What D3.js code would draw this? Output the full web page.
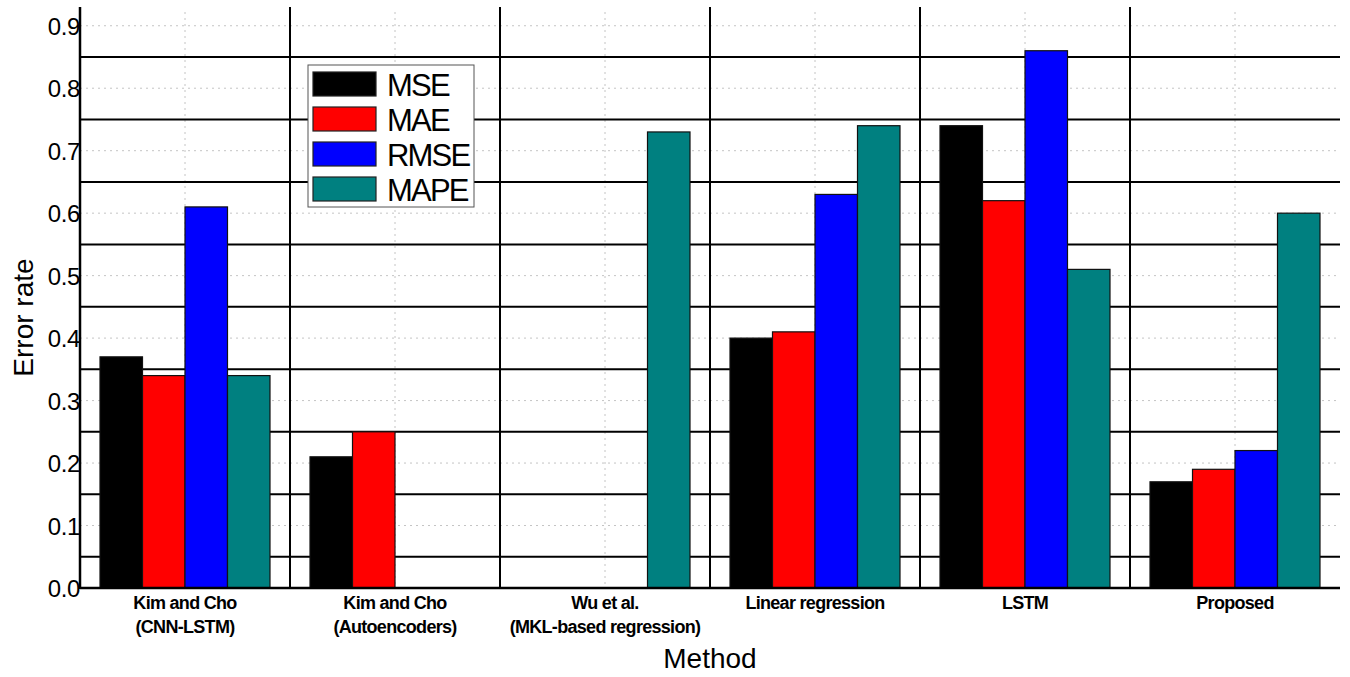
<!DOCTYPE html>
<html><head><meta charset="utf-8">
<script src="https://cdn.jsdelivr.net/npm/d3@7/dist/d3.min.js"></script>
<style>body{margin:0;background:#fff;} svg{display:block;font-family:"Liberation Sans",Arial,sans-serif;}</style>
</head><body>
<svg id="c" width="1350" height="677"></svg>
<script>
const categories = [["Kim and Cho","(CNN-LSTM)"],["Kim and Cho","(Autoencoders)"],["Wu et al.","(MKL-based regression)"],["Linear regression"],["LSTM"],["Proposed"]];
const seriesNames = ["MSE","MAE","RMSE","MAPE"];
const seriesColors = ["#000000","#ff0000","#0000ff","#008080"];
const MSE  = [0.37,0.21,0,0.40,0.74,0.17];
const MAE  = [0.34,0.25,0,0.41,0.62,0.19];
const RMSE = [0.61,0,0,0.63,0.86,0.22];
const MAPE = [0.34,0,0.73,0.74,0.51,0.60];
const yTicks = [0.0,0.1,0.2,0.3,0.4,0.5,0.6,0.7,0.8,0.9];
const yMajor = [0.05,0.15,0.25,0.35,0.45,0.55,0.65,0.75,0.85];
const values = [MSE,MAE,RMSE,MAPE];

const svg = d3.select("#c");
const L=80,R=1340,T=7,B=588;
const x0 = d3.scaleBand().domain(d3.range(categories.length)).range([L,R]).paddingInner(0).paddingOuter(0);
const x1 = d3.scaleBand().domain(d3.range(4)).range([20, x0.bandwidth()-20]).padding(0);
const y = d3.scaleLinear().domain([0,0.93]).range([B,T]);

// dotted minor grid
svg.append("g").selectAll("line").data(yTicks.slice(1)).join("line")
  .attr("x1",L).attr("x2",R).attr("y1",d=>y(d)).attr("y2",d=>y(d))
  .attr("stroke","#c4c4c4").attr("stroke-width",1).attr("stroke-dasharray","2,4");
svg.append("g").selectAll("line").data(d3.range(categories.length)).join("line")
  .attr("x1",d=>x0(d)+x0.bandwidth()/2).attr("x2",d=>x0(d)+x0.bandwidth()/2).attr("y1",T+5).attr("y2",B)
  .attr("stroke","#c4c4c4").attr("stroke-width",1).attr("stroke-dasharray","2,4");
// solid major grid
svg.append("g").selectAll("line").data(yMajor).join("line")
  .attr("x1",L).attr("x2",R).attr("y1",d=>y(d)).attr("y2",d=>y(d))
  .attr("stroke","#000").attr("stroke-width",2);
svg.append("g").selectAll("line").data(d3.range(1,categories.length)).join("line")
  .attr("x1",d=>x0(d)).attr("x2",d=>x0(d)).attr("y1",T).attr("y2",B)
  .attr("stroke","#000").attr("stroke-width",2);

// bars
const g = svg.append("g");
categories.forEach((c,i)=>{
  values.forEach((arr,s)=>{
    if(arr[i]>0){
      g.append("rect").attr("x",x0(i)+x1(s)).attr("width",x1.bandwidth())
        .attr("y",y(arr[i])).attr("height",y(0)-y(arr[i]))
        .attr("fill",seriesColors[s]).attr("stroke","#111").attr("stroke-width",1.2);
    }
  });
});

// axes
const yAxis = svg.append("g").attr("transform",`translate(${L},0)`)
  .call(d3.axisLeft(y).tickValues(yTicks).tickFormat(d3.format(".1f")).tickSize(0).tickPadding(0));
yAxis.select(".domain").remove();
yAxis.selectAll("text").attr("font-size",24).attr("fill","#000").attr("font-family","Liberation Sans, Arial, sans-serif").attr("dy","0.36em").attr("letter-spacing","-0.4");
svg.append("line").attr("x1",L).attr("x2",L).attr("y1",T).attr("y2",B+1).attr("stroke","#000").attr("stroke-width",2.5);
svg.append("line").attr("x1",L).attr("x2",R).attr("y1",B).attr("y2",B).attr("stroke","#000").attr("stroke-width",2.5);

// category labels
const cl = svg.append("g");
categories.forEach((c,i)=>{
  const t = cl.append("text").attr("x",x0(i)+x0.bandwidth()/2).attr("y",609)
    .attr("text-anchor","middle").attr("font-size",18).attr("font-weight","bold").attr("letter-spacing","-0.7");
  c.forEach((line,k)=>t.append("tspan").attr("x",x0(i)+x0.bandwidth()/2).attr("dy",k?24:0).text(line));
});

svg.append("text").attr("x",(L+R)/2).attr("y",668).attr("text-anchor","middle").attr("font-size",28).text("Method");
svg.append("text").attr("transform",`translate(33,${(T+B)/2+20}) rotate(-90)`).attr("text-anchor","middle").attr("font-size",28).text("Error rate");

// legend
const lg = svg.append("g").attr("transform","translate(308,65)");
lg.append("rect").attr("x",0).attr("y",0).attr("width",166).attr("height",142).attr("fill","#fff").attr("stroke","#555").attr("stroke-width",1);
seriesNames.forEach((n,i)=>{
  lg.append("rect").attr("x",5).attr("y",7+i*35).attr("width",63).attr("height",24).attr("fill",seriesColors[i]).attr("stroke","#222").attr("stroke-width",1.2);
  lg.append("text").attr("x",79).attr("y",7+i*35+24).attr("font-size",31).attr("letter-spacing","-1.8").text(n);
});
</script>
</body></html>
